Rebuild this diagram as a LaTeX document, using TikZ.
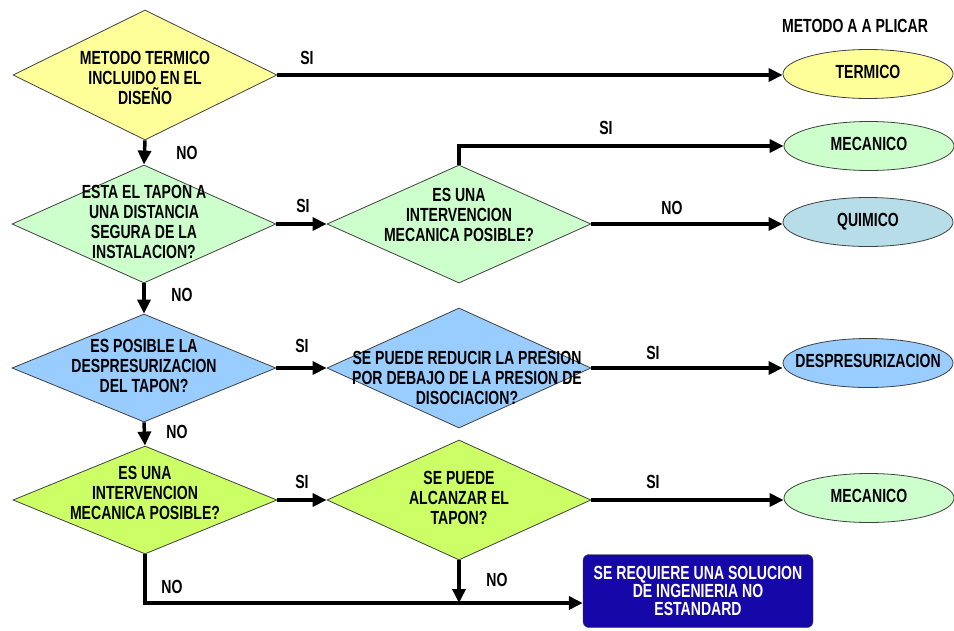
\documentclass[tikz,border=0pt]{standalone}
\usepackage{fontspec}
\setmainfont{Liberation Sans}[FakeStretch=0.74]
\usepackage{xcolor}
\usepackage{tikz}
\usetikzlibrary{shapes,arrows,positioning,calc,arrows.meta}

\definecolor{amarillo}{RGB}{255,255,153}
\definecolor{verdeclaro}{RGB}{204,255,204}
\definecolor{azulclaro}{RGB}{153,204,255}
\definecolor{lima}{RGB}{204,255,102}
\definecolor{celeste}{RGB}{183,221,232}
\definecolor{azuloscuro}{RGB}{22,8,168}

% texto de varias lineas sin tamano propio (el nodo toma su tamano minimo)
\newcommand{\lineas}[2][-4.5pt]{\raisebox{#1}[0pt][0pt]{\makebox[0pt]{\begin{tabular}{@{}c@{}}#2\end{tabular}}}}

\begin{document}
\begin{tikzpicture}[x=1pt, y=-1pt,
        font=\bfseries\fontsize{19}{20}\selectfont,
        pregunta/.style={diamond, draw=black!75, line width=0.8pt, inner sep=0pt, minimum width=264pt},
        metodo/.style={ellipse, draw=black!75, line width=0.8pt, inner sep=0pt, minimum width=170pt, minimum height=49pt},
        flecha/.style={line width=3.5pt, -{Triangle[length=14pt, width=13pt]}},
        etiqueta/.style={inner sep=0pt}]
        \useasboundingbox (0,0) rectangle (954,630);
        
        % Preguntas (columna izquierda)
        \node[pregunta, fill=amarillo, minimum height=130pt] (termico) at (145,75) {\lineas[-9.5pt]{METODO TERMICO\\INCLUIDO EN EL\\\smash{DISEÑO}}};
        \node[pregunta, fill=verdeclaro, minimum height=118pt] (distancia) at (144,224) {\lineas{ESTA EL TAPON A\\UNA DISTANCIA\\SEGURA DE LA\\INSTALACION?}};
        \node[pregunta, fill=azulclaro, minimum height=108pt] (despres) at (144,368) {\lineas{ES POSIBLE LA\\DESPRESURIZACION\\DEL TAPON?}};
        \node[pregunta, fill=lima, minimum height=108pt] (mecanica) at (145,500) {\lineas[0pt]{ES UNA\\INTERVENCION\\MECANICA POSIBLE?}};
        
        % Preguntas (columna central)
        \node[pregunta, fill=verdeclaro, minimum height=118pt] (intervencion) at (459,224) {\lineas[2.5pt]{ES UNA\\INTERVENCION\\MECANICA POSIBLE?}};
        \node[pregunta, fill=azulclaro, minimum height=120pt] (reducir) at (459,368) {\lineas[-16.5pt]{\hspace{16pt}\fontsize{19}{16}\selectfont SE PUEDE REDUCIR LA PRESION\\\hspace{16pt}POR DEBAJO DE LA PRESION DE\\\hspace{16pt}DISOCIACION?}};
        \node[pregunta, fill=lima, minimum height=120pt] (alcanzar) at (459,500) {\lineas{SE PUEDE\\ALCANZAR EL\\TAPON?}};
        
        % Metodos a aplicar
        \node[etiqueta] (titulo) at (855,26) {METODO A A PLICAR};
        \node[metodo, fill=amarillo] (mterm) at (868,74) {\lineas{TERMICO}};
        \node[metodo, fill=verdeclaro] (mmec) at (869,146) {\lineas{MECANICO}};
        \node[metodo, fill=celeste] (mquim) at (868,222) {\lineas{QUIMICO}};
        \node[metodo, fill=azulclaro] (mdesp) at (868,363) {\lineas{DESPRESURIZACION}};
        \node[metodo, fill=verdeclaro] (mmec2) at (869,498) {\lineas{MECANICO}};
        
        % Solucion no estandar
        \node[rectangle, rounded corners=6pt, draw=black!75, fill=azuloscuro, text=white, align=center,
              minimum width=230pt, minimum height=73pt, font=\bfseries\fontsize{19}{18}\selectfont] (especial) at (698,591)
              {SE REQUIERE UNA SOLUCION\\DE INGENIERIA NO\\ESTANDARD};
        \coordinate (bajo) at (0,603);
        
        % Conectores SI
        \draw[flecha] (termico.east) -- (termico.east -| mterm.west);
        \draw[flecha] (distancia.east) -- (intervencion.west);
        \draw[flecha] (intervencion.north) |- (mmec.west);
        \draw[flecha] (despres.east) -- (reducir.west);
        \draw[flecha] (reducir.east) -- (reducir.east -| mdesp.west);
        \draw[flecha] (mecanica.east) -- (alcanzar.west);
        \draw[flecha] (alcanzar.east) -- (alcanzar.east -| mmec2.west);
        
        % Conectores NO
        \draw[flecha] (termico.south) -- (distancia.north);
        \draw[flecha] (distancia.south) -- (despres.north);
        \draw[flecha] (despres.south) -- (mecanica.north);
        \draw[flecha] (intervencion.east) -- (intervencion.east -| mquim.west);
        \draw[flecha] (mecanica.south) |- (especial.west |- bajo);
        \draw[flecha] (alcanzar.south) -- (alcanzar.south |- bajo);
        
        % Etiquetas
        \node[etiqueta] (si1) at (307,58) {SI};
        \node[etiqueta] (si2) at (303,206) {SI};
        \node[etiqueta] (si3) at (606,128) {SI};
        \node[etiqueta] (si4) at (302,346) {SI};
        \node[etiqueta] (si5) at (653,353) {SI};
        \node[etiqueta] (si6) at (302,482) {SI};
        \node[etiqueta] (si7) at (653,482) {SI};
        \node[etiqueta] (no1) at (187,153) {NO};
        \node[etiqueta] (no2) at (182,295) {NO};
        \node[etiqueta] (no3) at (672,208) {NO};
        \node[etiqueta] (no4) at (177,432) {NO};
        \node[etiqueta] (no5) at (172,587) {NO};
        \node[etiqueta] (no6) at (497,580) {NO};
\end{tikzpicture}
\end{document}
